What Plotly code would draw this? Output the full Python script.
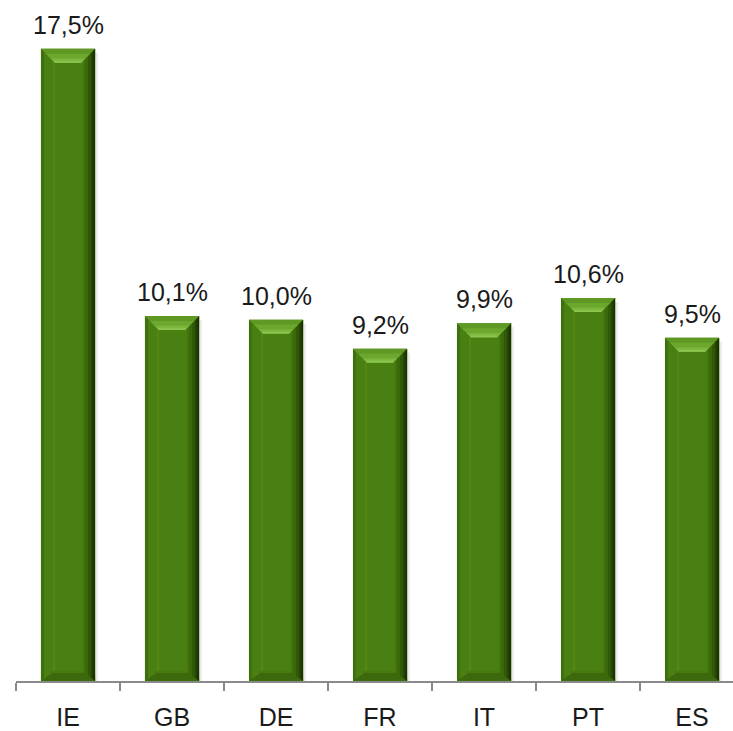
import plotly.graph_objects as go

# Share by country (%)
countries = ["IE", "GB", "DE", "FR", "IT", "PT", "ES"]
values = [17.5, 10.1, 10.0, 9.2, 9.9, 10.6, 9.5]
value_labels = ["17,5%", "10,1%", "10,0%", "9,2%", "9,9%", "10,6%", "9,5%"]

W, H = 733, 731
ML, MR, MT, MB = 16, 0, 0, 45
X_RANGE = [-0.5, 6.394]
Y_RANGE = [0, 18.85]

plot_w = W - ML - MR
plot_h = H - MT - MB
px_x = plot_w / (X_RANGE[1] - X_RANGE[0])   # pixels per category
px_y = plot_h / (Y_RANGE[1] - Y_RANGE[0])   # pixels per unit

BAR_W = 0.52
xs = list(range(len(countries)))

FACE = "#4a7f12"
SHADOW = "rgba(0,0,0,0.08)"

fig = go.Figure()


def poly(xp, yp, color):
    fig.add_trace(go.Scatter(
        x=xp + [xp[0]], y=yp + [yp[0]], mode="lines", fill="toself",
        fillcolor=color, line=dict(width=0), hoverinfo="skip",
        showlegend=False))


def dx(p):
    return p / px_x


def dy(p):
    return p / px_y


# soft shadow to the right of each bar
for x, v in zip(xs, values):
    r = x + BAR_W / 2
    poly([r, r + dx(3), r + dx(3), r], [0, 0, v - dy(4), v - dy(4)], SHADOW)

# flat bar bodies
fig.add_trace(go.Bar(
    x=xs, y=values, width=BAR_W, marker=dict(color=FACE, line=dict(width=0)),
    hoverinfo="skip", showlegend=False))

# bevel facets derived from each bar's value
BEV = 14  # bevel size in pixels
for x, v in zip(xs, values):
    l, r = x - BAR_W / 2, x + BAR_W / 2
    top_d, bot_d = dy(14), dy(10)

    # left slope: darker outer edge fading into the face
    poly([l, l + dx(3), l + dx(3), l], [0, dy(2), v - dy(3), v], "#3f7010")
    poly([l + dx(BEV - 2), l + dx(BEV), l + dx(BEV), l + dx(BEV - 2)],
         [bot_d, bot_d, v - top_d, v - top_d], "#51891a")

    # right slope: gradient towards a dark outer edge
    steps = [(12, "#44750e"), (10, "#3b680b"), (7, "#305808"), (4, "#244404"), (2, "#1b3502")]
    for w, c in steps:
        f = w / BEV
        poly([r, r - dx(w), r - dx(w), r],
             [0, bot_d * f, v - top_d * f, v], c)

    # bottom slope
    poly([l, r, r - dx(BEV), l + dx(BEV)], [0, 0, bot_d, bot_d], "#3c690c")
    poly([l + dx(BEV * 0.8), r - dx(BEV * 0.8), r - dx(BEV), l + dx(BEV)],
         [bot_d * 0.8, bot_d * 0.8, bot_d, bot_d], "#47790f")

    # top slope: lighter towards its inner edge
    poly([l, r, r - dx(BEV), l + dx(BEV)], [v, v, v - top_d, v - top_d], "#5f9823")
    poly([l + dx(BEV * 0.35), r - dx(BEV * 0.35), r - dx(BEV), l + dx(BEV)],
         [v - top_d * 0.35, v - top_d * 0.35, v - top_d, v - top_d], "#6ba82d")
    poly([l + dx(BEV * 0.7), r - dx(BEV * 0.7), r - dx(BEV), l + dx(BEV)],
         [v - top_d * 0.7, v - top_d * 0.7, v - top_d, v - top_d], "#7cb73e")
    poly([l + dx(BEV * 0.88), r - dx(BEV * 0.88), r - dx(BEV), l + dx(BEV)],
         [v - top_d * 0.88, v - top_d * 0.88, v - top_d, v - top_d], "#8cc550")

# value labels above bars
for x, v, t in zip(xs, values, value_labels):
    fig.add_annotation(x=x, y=v, text=t, showarrow=False, yanchor="bottom",
                       yshift=8, font=dict(size=25, color="#1a1a1a",
                                           family="Liberation Sans, Arial"))

fig.update_layout(
    width=W, height=H, margin=dict(l=ML, r=MR, t=MT, b=MB),
    paper_bgcolor="white", plot_bgcolor="white",
    font=dict(family="Liberation Sans, Arial", color="#1a1a1a"),
    xaxis=dict(
        range=X_RANGE, showgrid=False, zeroline=False,
        tickmode="array", tickvals=xs, ticktext=countries, ticks="",
        tickfont=dict(size=25), ticklabelstandoff=13,
        showline=True, linecolor="#898989", linewidth=2,
        minor=dict(tickmode="array",
                   tickvals=[i - 0.5 for i in range(len(countries) + 1)],
                   ticks="outside", ticklen=8, tickwidth=2, tickcolor="#898989"),
    ),
    yaxis=dict(range=Y_RANGE, visible=False, showgrid=False, zeroline=False),
)

fig.write_html("out.html")
